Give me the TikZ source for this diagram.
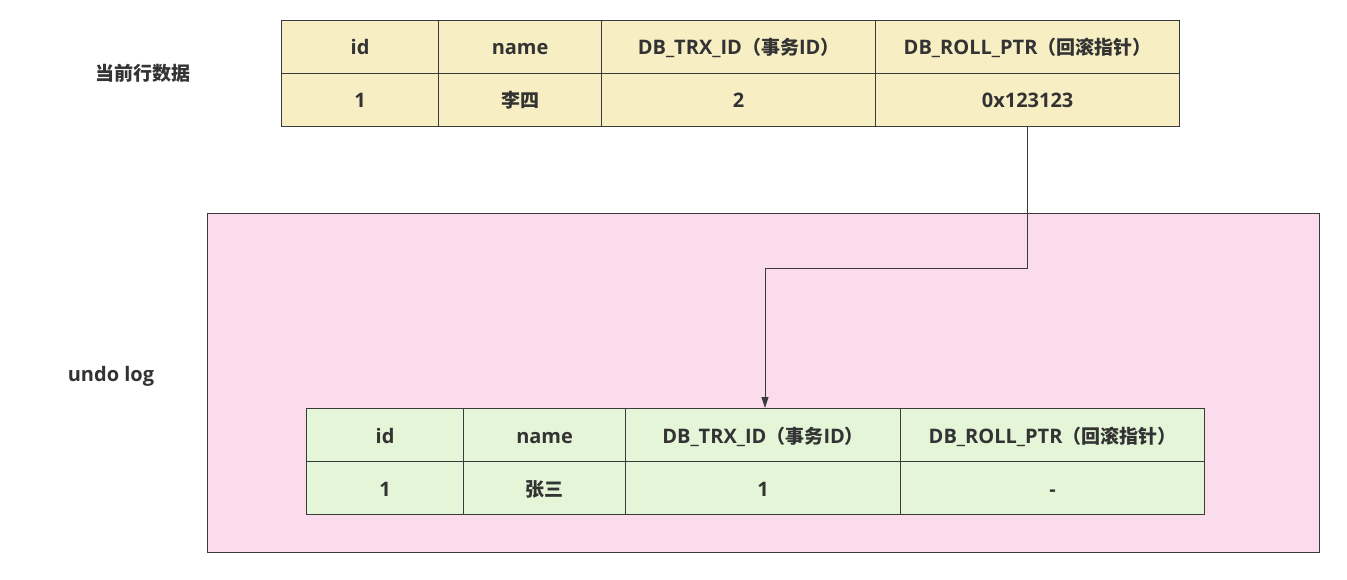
\documentclass[tikz,border=0pt]{standalone}
\usepackage{fontspec}
\setmainfont{Open Sans}
\newfontfamily\cjk{Noto Sans CJK SC}[Scale=0.95]
\usetikzlibrary{positioning,arrows.meta}

\definecolor{rowyellow}{HTML}{F7EEC4}
\definecolor{rowgreen}{HTML}{E4F5D8}
\definecolor{logpink}{HTML}{FADCEC}
\definecolor{edgegray}{HTML}{3A3A3A}
\definecolor{textgray}{HTML}{333333}

\begin{document}
\begin{tikzpicture}[x=1pt,y=-1pt,
  every node/.style={font=\fontsize{20}{22}\selectfont\bfseries, text=textgray, inner sep=0pt},
  cell/.style={rectangle, draw=edgegray, line width=1.2pt, minimum height=53pt,
    text height=16pt, text depth=0pt, anchor=north west},
  top/.style={cell, fill=rowyellow},
  low/.style={cell, fill=rowgreen},
  ptr/.style={-{Triangle[length=11pt,width=7pt]}, draw=edgegray, line width=1pt}]
\useasboundingbox (0,0) rectangle (1347,579);
% undo log area
\fill[logpink] (207,213) rectangle (1319,552);
\draw[edgegray, line width=1pt] (207,213) rectangle (1319,552);
\node (curlabel) at (143,73) {\cjk 当前行数据};
\node (undolabel) at (111,376) {undo log};
% current row
\node[top, minimum width=157pt] (tid) at (281,19.5) {id};
\node[top, minimum width=163pt] (tname) at (438,19.5) {name};
\node[top, minimum width=274pt] (ttrx) at (601,19.5) {DB\_TRX\_ID{\cjk（事务}ID{\cjk）}};
\node[top, minimum width=304pt] (tptr) at (875,19.5) {DB\_ROLL\_PTR{\cjk（回滚指针）}};
\node[top, minimum width=157pt] (tidv) at (281,72.5) {1};
\node[top, minimum width=163pt] (tnamev) at (438,72.5) {\cjk 李四};
\node[top, minimum width=274pt] (ttrxv) at (601,72.5) {2};
\node[top, minimum width=304pt] (tptrv) at (875,72.5) {0x123123};
% undo log row
\node[low, minimum width=157pt] (uid) at (306,408) {id};
\node[low, minimum width=162pt] (uname) at (463,408) {name};
\node[low, minimum width=275pt] (utrx) at (625,408) {DB\_TRX\_ID{\cjk（事务}ID{\cjk）}};
\node[low, minimum width=304pt] (uptr) at (900,408) {DB\_ROLL\_PTR{\cjk（回滚指针）}};
\node[low, minimum width=157pt] (uidv) at (306,461) {1};
\node[low, minimum width=162pt] (unamev) at (463,461) {\cjk 张三};
\node[low, minimum width=275pt] (utrxv) at (625,461) {1};
\node[low, minimum width=304pt] (uptrv) at (900,461) {-};
% roll pointer
\coordinate (bend) at (1027,268);
\draw[ptr] (tptrv.south -| bend) |- (765,268) -- (utrx.north -| 765,0);
\end{tikzpicture}
\end{document}
